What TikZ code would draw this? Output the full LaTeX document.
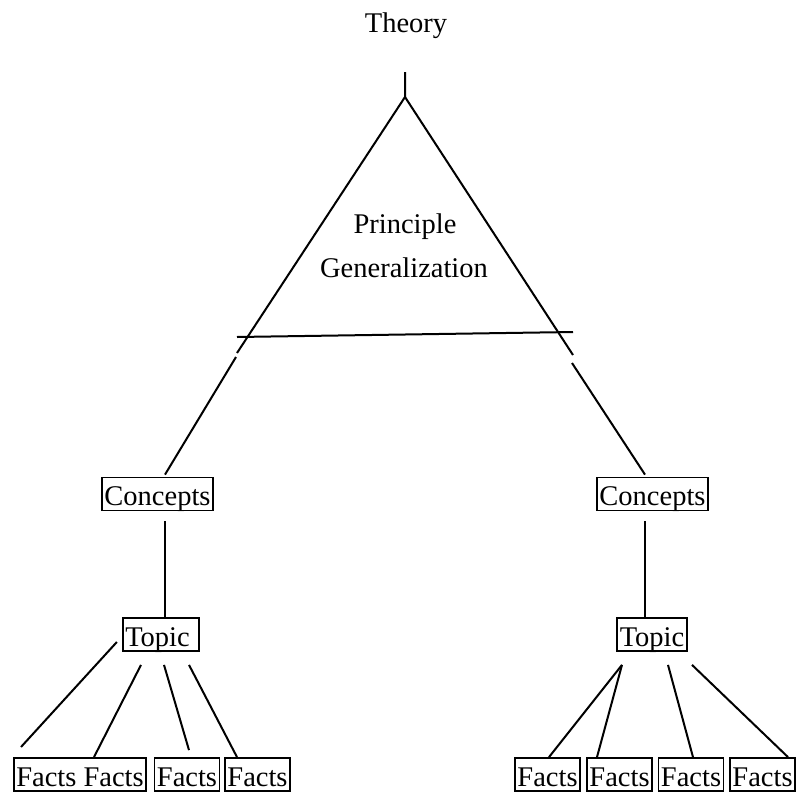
\documentclass[tikz,border=0pt]{standalone}
\usepackage{fontspec}
\setmainfont{Liberation Serif}
\usetikzlibrary{calc}
\tikzstyle{fb} = [rectangle,
                  draw=black,
                  line width=1.8pt,
                  inner xsep=2.5pt,
                  inner ysep=3pt,
                  text height=25pt,
                  text depth=2pt]
\tikzstyle{tl} = [inner sep=0pt,
                  anchor=base]
\tikzstyle{ln} = [line width=2pt]

\begin{document}
\begin{tikzpicture}[x=1pt, y=-1pt,
     every node/.style={font=\fontsize{28.5}{34}\selectfont}]
\useasboundingbox (0,0) rectangle (796,793);
% headings
\node [tl] (theory) at (406,32) {Theory};
\node [tl] (princ) at (405,233) {Principle};
\node [tl] (gener) at (404,277) {Generalization};
% triangle points
\coordinate (stem) at (405,72);
\coordinate (apex) at (405,97);
\coordinate (barL) at (237,337);
\coordinate (barR) at (573,332);
\coordinate (lcut) at (237,353);
\coordinate (lres) at (236,357);
\coordinate (rcut) at (573,355);
\coordinate (rres) at (572,363);
\coordinate (fend) at (21,747);
% boxes
\node [fb] (conL) at (157.5,494) {Concepts};
\node [fb] (conR) at (652.5,494) {Concepts};
\node [fb] (topL) at (161,634.5) {Topic\hspace*{7pt}};
\node [fb] (topR) at (652,634.5) {Topic};
\node [fb] (fL1) at (80,774.5) {Facts Facts};
\node [fb] (fL2) at (187,774.5) {Facts};
\node [fb] (fL3) at (257.5,774.5) {Facts};
\node [fb] (fR1) at (547.5,774.5) {Facts};
\node [fb] (fR2) at (619.5,774.5) {Facts};
\node [fb] (fR3) at (691,774.5) {Facts};
\node [fb] (fR4) at (762.5,774.5) {Facts};
% triangle
\draw [ln] (stem) -- (apex) -- (lcut);
\draw [ln] (apex) -- (rcut);
\draw [ln] (barL) -- (barR);
\draw [ln] (lres) -- ([xshift=7.5pt,yshift=2pt]conL.north);
\draw [ln] (rres) -- ([xshift=-7.5pt,yshift=2pt]conR.north);
% concepts to topic
\draw [ln] ([xshift=7.5pt,yshift=-10pt]conL.south) -- ([xshift=4pt]topL.north);
\draw [ln] ([xshift=-7.5pt,yshift=-10pt]conR.south) -- ([xshift=-7pt]topR.north);
% topic to facts, left
\draw [ln] ([xshift=-5pt,yshift=-7.5pt]topL.west) -- (fend);
\draw [ln] ([xshift=-20pt,yshift=-13pt]topL.south) -- ([xshift=14pt]fL1.north);
\draw [ln] ([xshift=3pt,yshift=-13pt]topL.south) -- ([xshift=2pt,yshift=7pt]fL2.north);
\draw [ln] ([xshift=28pt,yshift=-13pt]topL.south) -- ([xshift=-20.5pt]fL3.north);
% topic to facts, right
\draw [ln] ([xshift=-30pt,yshift=-13pt]topR.south) -- ([xshift=1.5pt]fR1.north);
\draw [ln] ([xshift=-30pt,yshift=-13pt]topR.south) -- ([xshift=-22.5pt]fR2.north);
\draw [ln] ([xshift=16pt,yshift=-13pt]topR.south) -- ([xshift=2pt]fR3.north);
\draw [ln] ([xshift=40pt,yshift=-13pt]topR.south) -- ([xshift=25.5pt]fR4.north);
\end{tikzpicture}
\end{document}
